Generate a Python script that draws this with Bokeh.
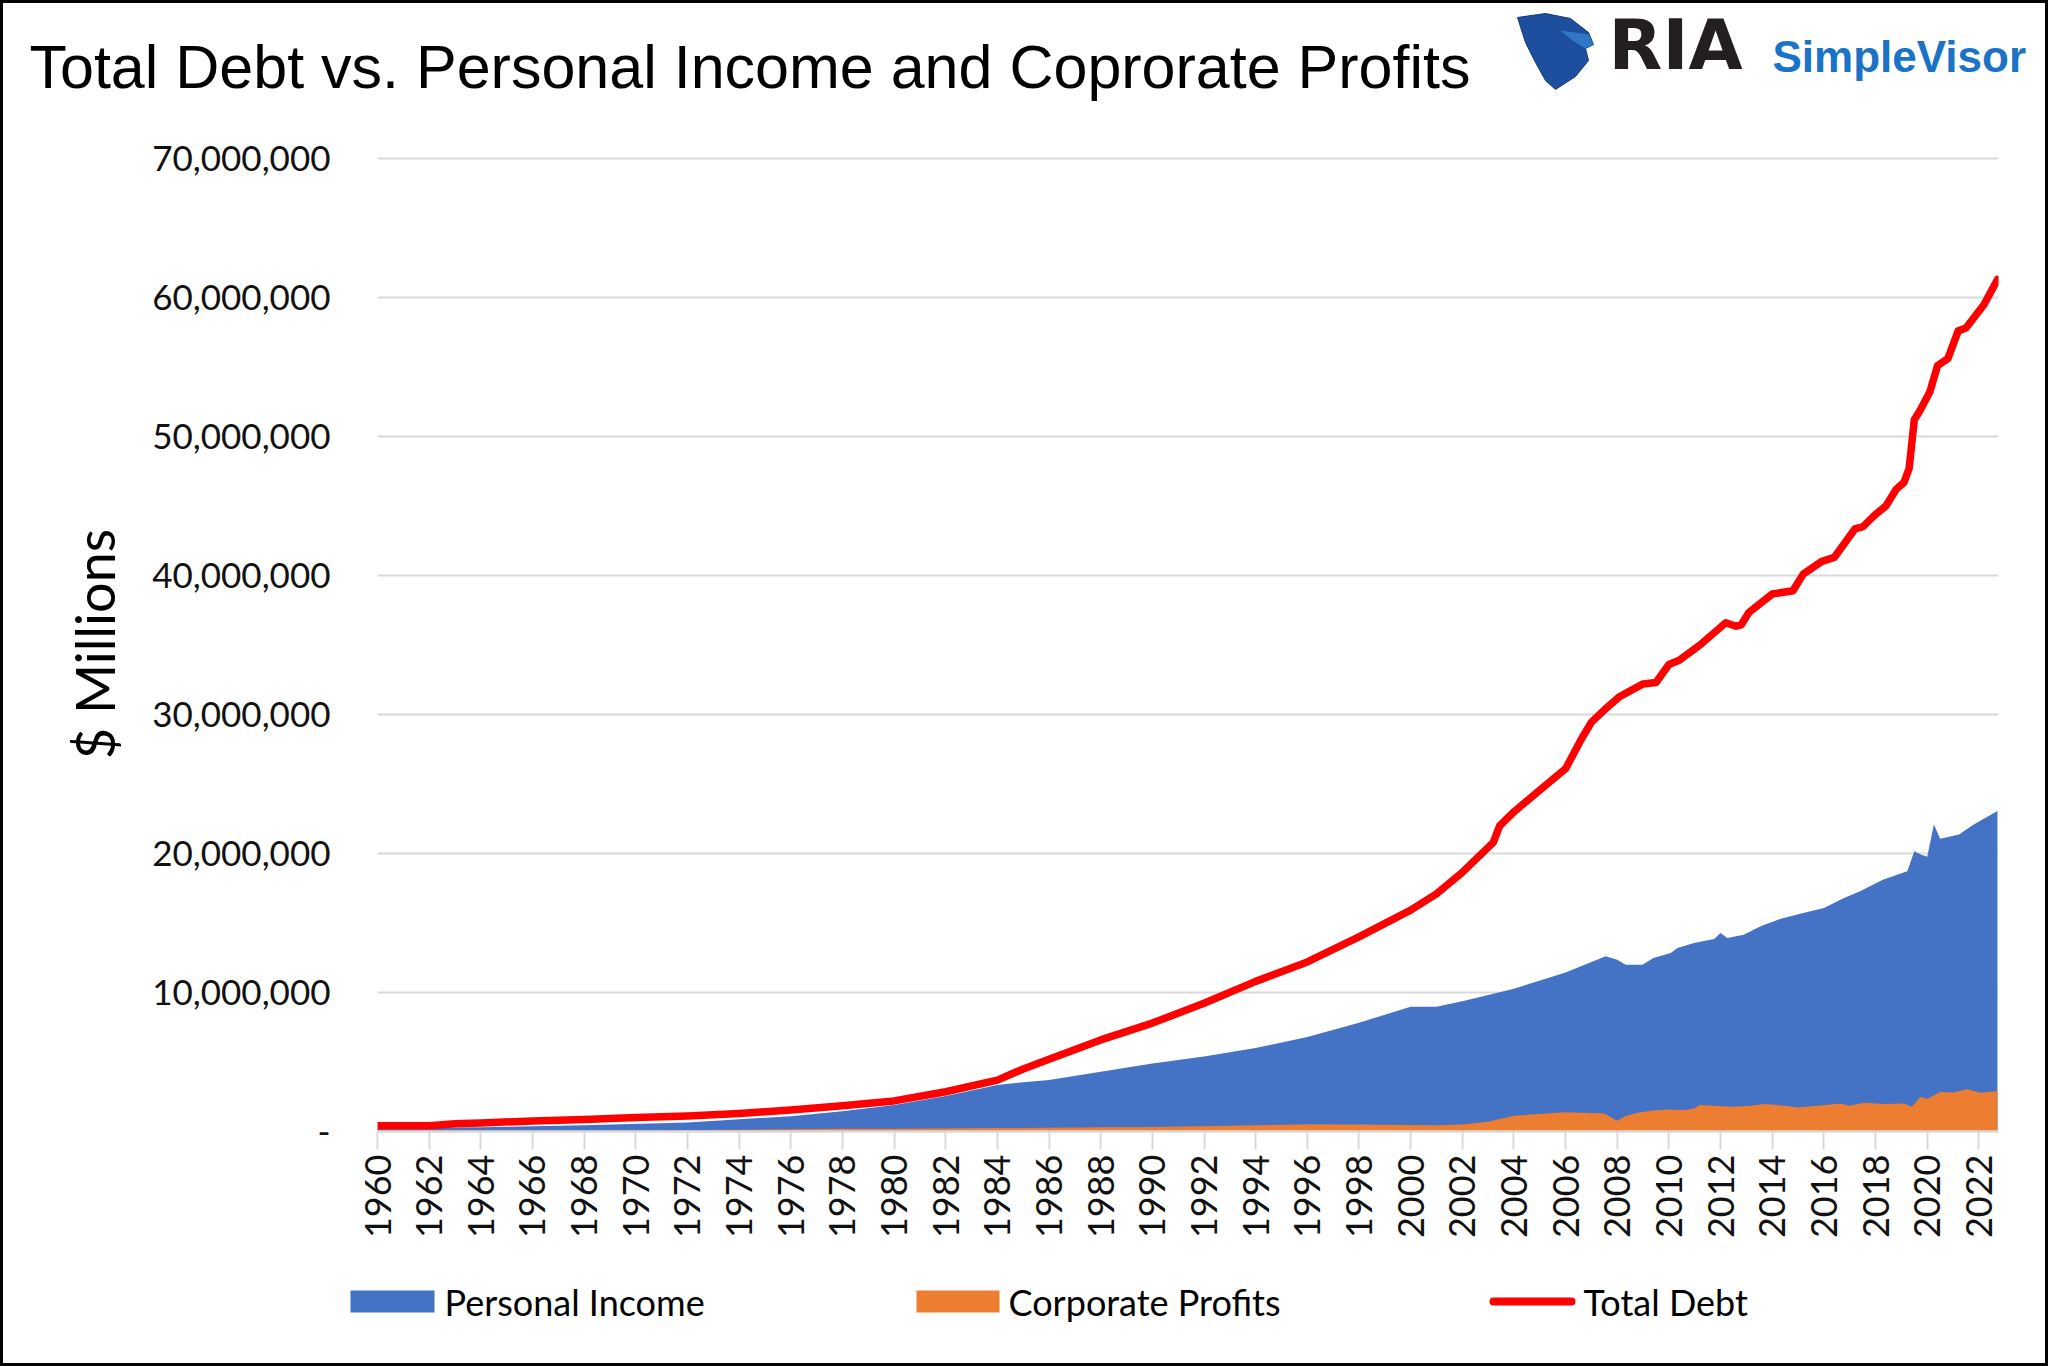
import math
from bokeh.plotting import figure
from bokeh.layouts import column, row
from bokeh.models import Range1d, FixedTicker, NumeralTickFormatter
from bokeh.core.properties import value
from bokeh.embed import file_html
from bokeh.resources import INLINE

# ---------------- data (values in $ trillions = axis "$ Millions" / 1e6) ----------------
SCALE = 1_000_000

debt_x = [1960, 1962, 1963, 1964, 1966, 1968, 1970, 1972, 1974, 1976, 1978, 1980, 1982,
          1984, 1984.5, 1985, 1986, 1988, 1990, 1992, 1994, 1996, 1998, 2000, 2001, 2002,
          2003.2, 2003.45, 2004, 2005, 2006, 2006.6, 2007, 2007.6, 2008.1, 2009.0, 2009.5,
          2010.0, 2010.4, 2011.2, 2012.2, 2012.6, 2012.8, 2013.1, 2014.0, 2014.8, 2015.2,
          2015.9, 2016.4, 2017.2, 2017.5, 2018.0, 2018.4, 2018.8, 2019.1, 2019.3, 2019.5,
          2019.7, 2020.1, 2020.4, 2020.8, 2021.2, 2021.5, 2022.2, 2022.72]
debt_y = [0.41, 0.42, 0.55, 0.62, 0.75, 0.87, 1.0, 1.12, 1.3, 1.55, 1.85, 2.2, 2.86,
          3.7, 4.1, 4.5, 5.2, 6.59, 7.8, 9.23, 10.8, 12.2, 14.0, 15.93, 17.1, 18.64,
          20.8, 22.0, 23.0, 24.56, 26.1, 28.2, 29.45, 30.5, 31.3, 32.2, 32.3,
          33.6, 33.9, 35.0, 36.6, 36.35, 36.45, 37.35, 38.67, 38.9, 40.1,
          41.0, 41.3, 43.35, 43.5, 44.4, 45.0, 46.2, 46.7, 47.7, 51.2,
          51.8, 53.2, 55.1, 55.6, 57.6, 57.8, 59.5, 61.3]

pi_x = [1960, 1964, 1968, 1972, 1976, 1978, 1980, 1982, 1984, 1985, 1986, 1988, 1990, 1992,
        1994, 1996, 1998, 2000, 2001, 2002, 2004, 2006, 2007.55, 2008.0, 2008.33, 2008.97,
        2009.4, 2010.07, 2010.33, 2010.97, 2011.75, 2012.0, 2012.26, 2012.9, 2013.55,
        2014.33, 2015.2, 2016.0, 2016.78, 2017.4, 2018.3, 2019.23, 2019.5, 2019.75, 2020.0,
        2020.26, 2020.5, 2021.23, 2021.8, 2022.72]
pi_y = [0.25, 0.3, 0.45, 0.65, 1.1, 1.45, 1.9, 2.55, 3.35, 3.55, 3.7, 4.3, 4.9, 5.4,
        6.0, 6.8, 7.82, 8.98, 8.98, 9.37, 10.27, 11.43, 12.6, 12.36, 12.0, 12.0,
        12.48, 12.84, 13.2, 13.56, 13.85, 14.28, 13.92, 14.16, 14.76,
        15.31, 15.72, 16.08, 16.8, 17.28, 18.13, 18.72, 20.17, 19.93, 19.76,
        22.09, 21.06, 21.37, 22.09, 23.05]

cp_x = [1960, 1966, 1970, 1974, 1978, 1980, 1984, 1988, 1990, 1994, 1996, 1998, 2001, 2002,
        2003, 2004, 2006, 2007.5, 2008.0, 2008.33, 2008.78, 2009.3, 2009.94, 2010.6, 2010.97,
        2011.2, 2011.9, 2012.5, 2013.2, 2013.7, 2014.5, 2015.0, 2015.75, 2016.65, 2017.0,
        2017.55, 2018.3, 2019.1, 2019.4, 2019.75, 2020.0, 2020.5, 2021.0, 2021.55, 2022.07,
        2022.72]
cp_y = [0.05, 0.08, 0.08, 0.12, 0.2, 0.2, 0.25, 0.3, 0.33, 0.45, 0.53, 0.5, 0.45, 0.5,
        0.7, 1.13, 1.39, 1.3, 0.77, 1.11, 1.35, 1.49, 1.59, 1.54, 1.66,
        1.9, 1.83, 1.78, 1.85, 1.97, 1.85, 1.73, 1.85, 2.02, 1.85,
        2.07, 1.97, 2.02, 1.78, 2.5, 2.33, 2.85, 2.8, 3.04, 2.78,
        2.92]

year_ticks = list(range(1960, 2023, 2))
y_ticks = [0, 10, 20, 30, 40, 50, 60, 70]

title_text = "Total Debt vs. Personal Income and Coprorate Profits"
y_label = "$ Millions"
series_names = ["Personal Income", "Corporate Profits", "Total Debt"]
series_colors = ["#4472C4", "#ED7D31", "#FF0000"]

assert len(debt_x) == len(debt_y) and len(pi_x) == len(pi_y) and len(cp_x) == len(cp_y)

# page is 2048 x 1366: a 3px black frame around content of 2042 x 1360
BORDER = 3
W = 2048 - 2 * BORDER
HEAD_H, MAIN_H = 117, 1130
FOOT_H = 1366 - 2 * BORDER - HEAD_H - MAIN_H


def blank(height, top):
    """A figure whose frame is its whole canvas; coordinates are page pixels (y down)."""
    f = figure(width=W, height=height, output_backend="svg", toolbar_location=None,
               x_range=Range1d(BORDER, BORDER + W), y_range=Range1d(top + height, top),
               min_border=0, min_border_left=0, min_border_right=0,
               min_border_top=0, min_border_bottom=0, title=None)
    f.axis.visible = False
    f.grid.visible = False
    f.outline_line_color = None
    f.background_fill_color = "white"
    f.border_fill_color = "white"
    return f


# ---------------- header: title and logo ----------------
head = blank(HEAD_H, BORDER)
# (text y values are corrected for the renderer's baseline offset)
head.text(x=[29], y=[66], text=[title_text], text_font=value("Liberation Sans"),
          text_font_size="61px", text_color="#000000", text_baseline="alphabetic",
          text_align="left")
shield_X = [1517, 1545, 1570, 1588, 1593, 1585, 1588, 1575, 1555, 1545, 1535, 1525]
shield_Y = [17, 13, 18, 32, 44, 48, 60, 76, 89, 80, 62, 42]
head.patch(x=shield_X, y=shield_Y, fill_color="#1d4f9e", line_color="#123a7a", line_width=1)
head.patch(x=[1560, 1588, 1593, 1585, 1572], y=[30, 34, 44, 48, 40],
           fill_color="#2f78c8", line_color=None)
head.text(x=[1608], y=[44], text=["RIA"], text_font=value("DejaVu Sans"),
          text_font_style="bold", text_font_size="70px", text_color="#231f20",
          text_baseline="alphabetic")
head.text(x=[1772], y=[56], text=["SimpleVisor"], text_font=value("Liberation Sans"),
          text_font_style="bold", text_font_size="44px", text_color="#1a73c6",
          text_baseline="alphabetic")

# ---------------- main chart ----------------
FL, FR, FT, FB = 377 - BORDER, 2048 - BORDER - 1998, 36, 119
frame_h = MAIN_H - FT - FB
y_top = 70 * SCALE * (1 + (frame_h - 973) / 973)

p = figure(width=W, height=MAIN_H, output_backend="svg", toolbar_location=None,
           x_range=Range1d(1960, 2022.76), y_range=Range1d(0, y_top),
           min_border_left=FL, min_border_right=FR, min_border_top=FT, min_border_bottom=FB,
           title=None)
p.outline_line_color = None
p.background_fill_color = "white"
p.border_fill_color = "white"

p.xgrid.visible = False
p.ygrid.grid_line_color = "#d9d9d9"
p.ygrid.grid_line_width = 2

p.yaxis.ticker = FixedTicker(ticks=[v * SCALE for v in y_ticks])
p.yaxis.formatter = NumeralTickFormatter(format="0,0")
p.yaxis.major_label_overrides = {0: "-"}
p.yaxis.axis_line_color = None
p.yaxis.major_tick_line_color = None
p.yaxis.minor_tick_line_color = None
p.yaxis.major_tick_out = 0
p.yaxis.major_label_standoff = 47
p.yaxis.major_label_text_font = "Lato"
p.yaxis.major_label_text_font_size = "35px"
p.yaxis.major_label_text_color = "#111111"
p.yaxis.axis_label = y_label
p.yaxis.axis_label_text_font = "Lato"
p.yaxis.axis_label_text_font_size = "54px"
p.yaxis.axis_label_text_font_style = "normal"
p.yaxis.axis_label_text_color = "#000000"
p.yaxis.axis_label_standoff = 22

p.xaxis.ticker = FixedTicker(ticks=year_ticks)
p.xaxis.major_label_orientation = math.pi / 2
p.xaxis.axis_line_color = "#d9d9d9"
p.xaxis.axis_line_width = 2.5
p.xaxis.major_tick_line_color = "#d9d9d9"
p.xaxis.major_tick_line_width = 2
p.xaxis.major_tick_out = 18
p.xaxis.major_tick_in = 0
p.xaxis.minor_tick_line_color = None
p.xaxis.major_label_standoff = 5
p.xaxis.major_label_text_font = "Lato"
p.xaxis.major_label_text_font_size = "36px"
p.xaxis.major_label_text_color = "#111111"

p.varea(x=pi_x, y1=[0] * len(pi_x), y2=[v * SCALE for v in pi_y], fill_color=series_colors[0])
p.varea(x=cp_x, y1=[0] * len(cp_x), y2=[v * SCALE for v in cp_y], fill_color=series_colors[1])
p.line(x=debt_x, y=[v * SCALE for v in debt_y], line_color=series_colors[2],
       line_width=7.5, line_join="round", line_cap="round")

# ---------------- footer: legend ----------------
foot_top = BORDER + HEAD_H + MAIN_H
foot = blank(FOOT_H, foot_top)
foot.quad(left=[350, 916], right=[434, 999], top=[1290, 1290], bottom=[1312, 1312],
          fill_color=series_colors[:2], line_color=None)
foot.line(x=[1493, 1571], y=[1301, 1301], line_color=series_colors[2], line_width=8,
          line_cap="round")
foot.text(x=[444, 1008, 1583], y=[1301, 1301, 1301], text=series_names,
          text_font=value("Lato"), text_font_size="36px", text_color="#000000",
          text_baseline="middle", text_align="left")

layout = column(row(head), p, row(foot), spacing=0)
layout.styles = {"border": f"{BORDER}px solid #000000"}

open("out.html", "w").write(file_html(layout, INLINE))
